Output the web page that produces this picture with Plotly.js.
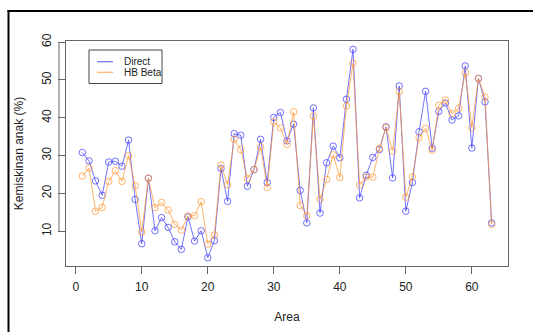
<!DOCTYPE html>
<html>
<head>
<meta charset="utf-8">
<script src="https://cdn.plot.ly/plotly-3.0.1.min.js"></script>
<style>
html,body{margin:0;padding:0;background:#fff;}
#chart{width:533px;height:332px;}
</style>
</head>
<body>
<div id="chart"></div>
<script>
const area = [];
for (let i = 1; i <= 63; i++) area.push(i);

const directValues = [
  30.8, 28.6, 23.3, 19.5, 28.3, 28.5, 27.2, 34.1, 18.4, 6.7,
  24.0, 10.1, 13.6, 11.0, 7.2, 5.2, 13.8, 7.4, 10.1, 3.0,
  7.5, 26.6, 17.9, 35.8, 35.4, 21.9, 26.3, 34.3, 22.9, 40.1,
  41.4, 33.9, 38.3, 20.8, 12.2, 42.6, 14.8, 28.1, 32.5, 29.4,
  44.9, 58.1, 18.8, 24.8, 29.5, 31.6, 37.6, 24.1, 48.4, 15.3,
  22.9, 36.3, 47.0, 31.9, 41.7, 43.9, 39.4, 40.5, 53.7, 32.0,
  50.4, 44.2, 12.2
];

const hbBetaValues = [
  24.6, 26.7, 15.3, 16.3, 23.2, 26.0, 23.2, 30.0, 22.0, 9.8,
  24.0, 16.2, 17.6, 15.6, 11.8, 10.3, 14.0, 14.1, 17.8, 6.6,
  9.0, 27.5, 22.3, 34.3, 31.6, 23.9, 26.3, 32.3, 21.6, 38.9,
  37.3, 33.0, 41.6, 16.8, 14.1, 40.4, 18.4, 23.7, 30.2, 24.2,
  43.1, 54.4, 22.2, 24.3, 24.3, 31.9, 37.4, 31.2, 46.9, 19.0,
  24.4, 34.7, 37.2, 31.4, 43.3, 44.7, 41.1, 42.5, 51.9, 37.4,
  50.4, 45.5, 11.8
];

const seriesNames = ["Direct", "HB Beta"];
const xTicks = [0, 10, 20, 30, 40, 50, 60];
const yTicks = [10, 20, 30, 40, 50, 60];

const blue = "rgba(60,60,255,0.72)";
const orange = "rgba(255,150,50,0.72)";
const FONT = "Liberation Sans, Arial, sans-serif";

const traces = [
  {
    x: area, y: directValues, name: seriesNames[0], type: "scatter", mode: "lines+markers",
    line: {color: blue, width: 1},
    marker: {symbol: "circle-open", size: 6.5, color: blue, line: {width: 1, color: blue}},
    showlegend: false
  },
  {
    x: area, y: hbBetaValues, name: seriesNames[1], type: "scatter", mode: "lines+markers",
    line: {color: orange, width: 1},
    marker: {symbol: "circle-open", size: 6.5, color: orange, line: {width: 1, color: orange}},
    showlegend: false
  }
];

const L = 66, T = 41, W = 442, H = 225;
const px = v => (v - L) / W;
const py = v => (T + H - v) / H;

const shapes = [
  // legend box
  {type: "rect", xref: "paper", yref: "paper", x0: px(89), x1: px(162), y0: py(83.5), y1: py(50),
   line: {color: "#444", width: 1}, fillcolor: "rgba(255,255,255,0)"},
  {type: "line", xref: "paper", yref: "paper", x0: px(97), x1: px(113), y0: py(61.7), y1: py(61.7),
   line: {color: blue, width: 1.2}},
  {type: "line", xref: "paper", yref: "paper", x0: px(97), x1: px(113), y0: py(72.3), y1: py(72.3),
   line: {color: orange, width: 1.2}},
  // y axis line (R style)
  {type: "line", xref: "paper", yref: "y", x0: px(59), x1: px(59), y0: 10, y1: 60,
   line: {color: "#666", width: 1}},
  // outer frame
  {type: "line", xref: "paper", yref: "paper", x0: px(8.5), x1: px(8.5), y0: py(10), y1: py(345),
   line: {color: "#000", width: 2}},
  {type: "line", xref: "paper", yref: "paper", x0: px(7.5), x1: px(545), y0: py(11), y1: py(11),
   line: {color: "#000", width: 2}}
];

const annotations = [
  {xref: "paper", yref: "paper", x: px(122), y: py(61.7), xanchor: "left", yanchor: "middle",
   text: seriesNames[0], showarrow: false, font: {family: FONT, size: 10, color: "#222"}},
  {xref: "paper", yref: "paper", x: px(122), y: py(72.3), xanchor: "left", yanchor: "middle",
   text: seriesNames[1], showarrow: false, font: {family: FONT, size: 10, color: "#222"}}
];

const layout = {
  width: 533, height: 332,
  margin: {l: L, r: 533 - L - W, t: T, b: 332 - T - H, pad: 0},
  paper_bgcolor: "#fff", plot_bgcolor: "#fff",
  font: {family: FONT, size: 12, color: "#222"},
  showlegend: false,
  xaxis: {
    range: [-1.48, 65.48], tickvals: xTicks, ticks: "outside", ticklen: 7, tickcolor: "#666",
    ticklabelstandoff: 3,
    showgrid: false, zeroline: false, showline: true, mirror: true, linecolor: "#666", linewidth: 1,
    tickfont: {family: FONT, size: 12, color: "#222"},
    title: {text: "Area", font: {family: FONT, size: 12, color: "#222"}, standoff: 19}
  },
  yaxis: {
    range: [0.8, 60.3], tickvals: yTicks, ticks: "outside", ticklen: 7, tickcolor: "#666",
    tickangle: -90, ticklabelstandoff: 2,
    showgrid: false, zeroline: false, showline: true, mirror: true, linecolor: "#666", linewidth: 1,
    tickfont: {family: FONT, size: 12, color: "#222"},
    title: {text: "Kemiskinan anak (%)", font: {family: FONT, size: 12, color: "#222"}, standoff: 14}
  },
  shapes: shapes,
  annotations: annotations
};

Plotly.newPlot("chart", traces, layout, {displayModeBar: false, staticPlot: true});
</script>
</body>
</html>
